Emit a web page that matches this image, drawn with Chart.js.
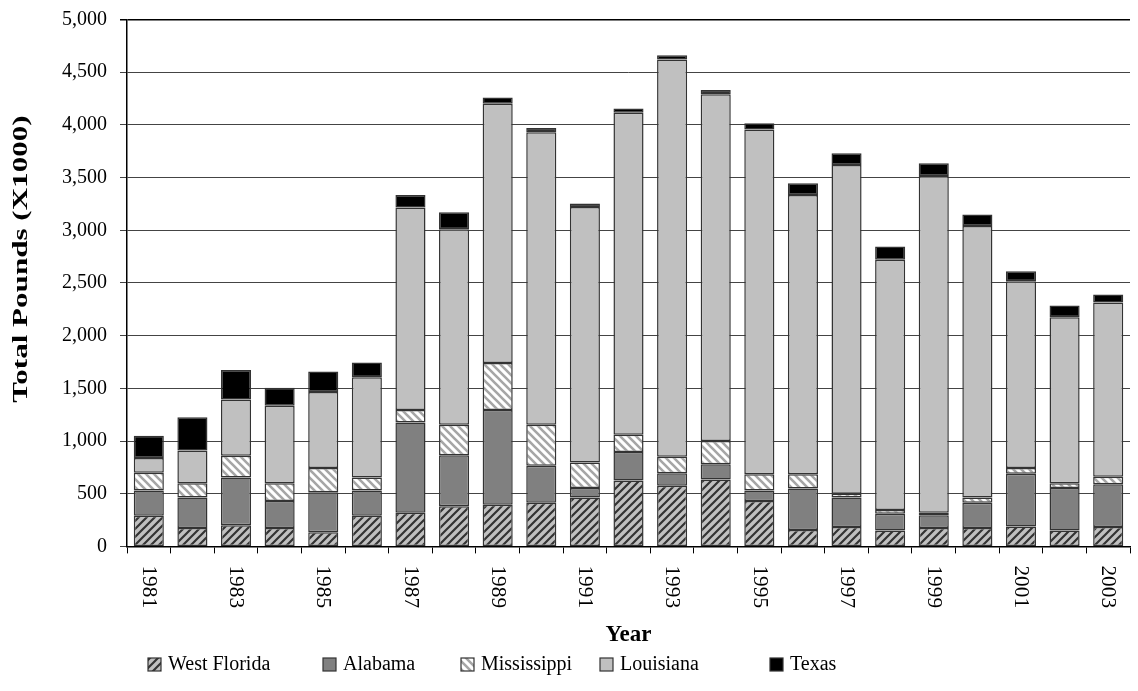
<!DOCTYPE html>
<html>
<head>
<meta charset="utf-8">
<script src="https://cdn.jsdelivr.net/npm/chart.js@4/dist/chart.umd.min.js"></script>
<style>
  html, body { margin: 0; padding: 0; background: #fff; }
  #wrap { width: 1138px; height: 691px; }
</style>
</head>
<body>
<div id="wrap"><canvas id="chart1"></canvas></div>
<script>
var years = ['1981', '1982', '1983', '1984', '1985', '1986', '1987', '1988', '1989', '1990', '1991', '1992',
             '1993', '1994', '1995', '1996', '1997', '1998', '1999', '2000', '2001', '2002', '2003']

var westFlorida = [290, 175, 200, 175, 135, 290, 320, 380, 395, 415, 465, 625, 575, 635, 430, 155, 185, 150, 175, 175, 190, 150, 185]
var alabama = [240, 290, 455, 255, 380, 240, 855, 485, 900, 350, 90, 270, 120, 145, 100, 395, 280, 160, 120, 240, 500, 405, 405]
var mississippi = [170, 135, 205, 170, 230, 125, 120, 290, 445, 390, 240, 165, 155, 220, 155, 135, 35, 35, 25, 50, 55, 45, 70]
var louisiana = [140, 310, 535, 735, 720, 950, 1920, 1855, 2460, 2775, 2425, 3055, 3770, 3290, 3270, 2650, 3120, 2375, 3195, 2575, 1770, 1575, 1655]
var texas = [210, 315, 280, 170, 195, 140, 120, 160, 60, 40, 35, 40, 40, 40, 60, 110, 110, 125, 120, 110, 95, 110, 75]

var yTicks = [0, 500, 1000, 1500, 2000, 2500, 3000, 3500, 4000, 4500, 5000]

var serif = '"Liberation Serif", "Times New Roman", serif'

// where each legend entry starts (box left edge)
var legendX = [148, 323, 461, 600, 770]

// diagonal hatch fill
function hatch(bg, fg, lineW, forward) {
    var c = document.createElement('canvas')
    var s = 8
    c.width = s
    c.height = s
    var g = c.getContext('2d')
    g.fillStyle = bg
    g.fillRect(0, 0, s, s)
    g.strokeStyle = fg
    g.lineWidth = lineW
    g.beginPath()
    if (forward) {
        g.moveTo(-s, s * 2); g.lineTo(s * 2, -s)
        g.moveTo(-s, s); g.lineTo(s, -s)
        g.moveTo(0, s * 2); g.lineTo(s * 2, 0)
    } else {
        g.moveTo(-s, -s); g.lineTo(s * 2, s * 2)
        g.moveTo(-s, 0); g.lineTo(s, s * 2)
        g.moveTo(0, -s); g.lineTo(s * 2, s)
    }
    g.stroke()
    return g.createPattern(c, 'repeat')
}

var wfFill = hatch('#c0c0c0', '#333333', 2.2, true)
var msFill = hatch('#ffffff', '#a6a6a6', 2.6, false)

// the old chart's rotated text is drawn long and narrow; copy that
function drawText(ctx, text, x, y, angle, stretch) {
    ctx.save()
    ctx.translate(x, y)
    ctx.rotate(angle)
    ctx.scale(stretch, 1)
    ctx.fillText(text, 0, 0)
    ctx.restore()
}

var extraText = {
    id: 'extraText',
    afterDraw: function (chart) {
        var ctx = chart.ctx
        var sc = chart.scales.x
        ctx.save()
        ctx.fillStyle = '#000'

        // year labels, every other one, reading downward
        ctx.font = '22px ' + serif
        ctx.textAlign = 'left'
        ctx.textBaseline = 'middle'
        sc.ticks.forEach(function (t, i) {
            if (i % 2 !== 0) return
            drawText(ctx, years[i], sc.getPixelForTick(i), sc.top + 19, Math.PI / 2, 0.97)
        })

        // y axis title
        ctx.font = 'bold 21px ' + serif
        ctx.textAlign = 'center'
        drawText(ctx, 'Total Pounds (X1000)', 22, 259, -Math.PI / 2, 1.48)

        // legend
        ctx.font = '20px ' + serif
        ctx.textAlign = 'left'
        var ly = chart.height - 26
        chart.data.datasets.forEach(function (d, i) {
            var x = legendX[i]
            ctx.fillStyle = d.backgroundColor
            ctx.fillRect(x, ly - 7, 13, 13)
            ctx.strokeStyle = '#333'
            ctx.lineWidth = 1.2
            ctx.strokeRect(x, ly - 7, 13, 13)
            ctx.fillStyle = '#000'
            ctx.fillText(d.label, x + 20, ly)
        })
        ctx.restore()
    }
}

function ds(label, data, fill) {
    return {
        label: label,
        data: data,
        backgroundColor: fill,
        borderColor: '#333333',
        borderWidth: 1.5,
        borderSkipped: false,
        barPercentage: 0.69,
        categoryPercentage: 1.0
    }
}

var chart1 = new Chart(
    document.getElementById('chart1'),
    {
        type: 'bar',
        data: {
            labels: years,
            datasets: [
                ds('West Florida', westFlorida, wfFill),
                ds('Alabama', alabama, '#808080'),
                ds('Mississippi', mississippi, msFill),
                ds('Louisiana', louisiana, '#c0c0c0'),
                ds('Texas', texas, '#000000')
            ]
        },
        plugins: [extraText],
        options: {
            responsive: true,
            maintainAspectRatio: false,
            animation: false,
            layout: { padding: { left: 49, right: 8, top: 4, bottom: 42 } },
            plugins: {
                tooltip: { enabled: false },
                legend: { display: false }
            },
            scales: {
                x: {
                    stacked: true,
                    grid: {
                        offset: true,
                        drawOnChartArea: false,
                        drawTicks: true,
                        tickLength: 7,
                        color: '#000'
                    },
                    border: { color: '#000', width: 1.5 },
                    ticks: { display: false },
                    title: {
                        display: true,
                        text: 'Year',
                        color: '#000',
                        font: { family: serif, size: 23, weight: 'bold' },
                        padding: { top: 68, bottom: 0 }
                    }
                },
                y: {
                    stacked: true,
                    min: 0,
                    max: 5000,
                    afterBuildTicks: function (axis) {
                        axis.ticks = yTicks.map(function (v) { return { value: v } })
                    },
                    grid: {
                        color: function (c) { return c.tick && c.tick.value === 5000 ? '#000' : '#444' },
                        lineWidth: function (c) { return c.tick && c.tick.value === 5000 ? 1.5 : 1 },
                        tickLength: 7
                    },
                    border: { color: '#000', width: 1.5 },
                    ticks: {
                        color: '#000',
                        font: { family: serif, size: 20, lineHeight: 0.65 },
                        padding: 13,
                        callback: function (v) { return v.toLocaleString('en-US') }
                    }
                }
            }
        }
    }
);
</script>
</body>
</html>
